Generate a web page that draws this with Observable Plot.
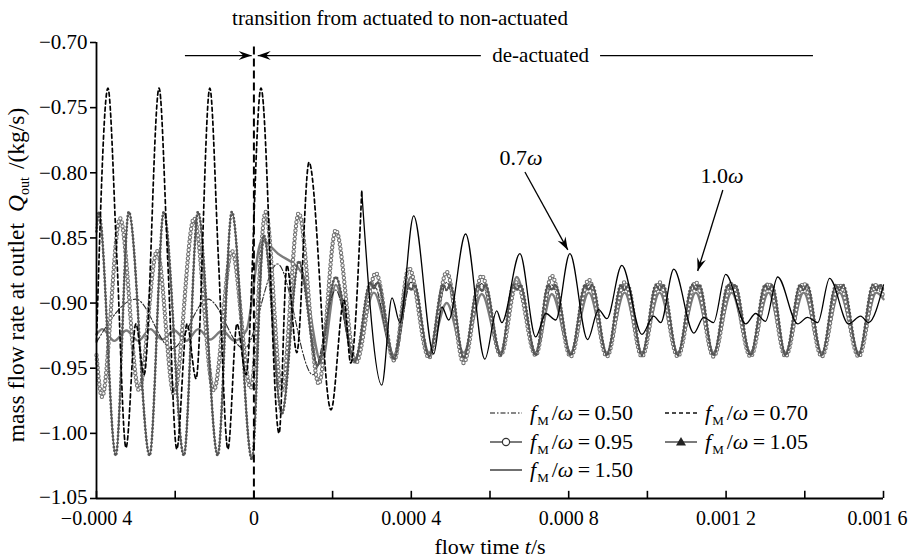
<!DOCTYPE html>
<html><head><meta charset="utf-8">
<script src="https://cdn.jsdelivr.net/npm/d3@7"></script>
<script src="https://cdn.jsdelivr.net/npm/@observablehq/plot@0.6"></script>
<style>
body{margin:0;background:#fff}
svg{font-family:"Liberation Serif","Times New Roman",serif}
</style>
</head><body><div id="chart"></div>
<script>
// ---- data: [time in microseconds, mass flow rate kg/s] ----
const s050 = [[-400,-0.93],[-300,-0.897],[-208,-0.935],[-117,-0.897],[-25,-0.935],[60,-0.870],[150,-0.955],[208,-0.890],[256,-0.945],[305,-0.886],[356,-0.945],[399,-0.884],[445,-0.941],[490,-0.884],[533,-0.941],[579,-0.885],[627,-0.940],[668,-0.885],[716,-0.940],[757,-0.886],[805,-0.940],[851,-0.886],[897,-0.940],[942,-0.886],[986,-0.940],[1031,-0.886],[1077,-0.940],[1123,-0.886],[1168,-0.940],[1214,-0.886],[1262,-0.940],[1308,-0.886],[1351,-0.940],[1397,-0.886],[1443,-0.940],[1488,-0.886],[1537,-0.940],[1582,-0.886],[1600,-0.893]];

const s070 = [[-400,-0.93],[-371,-0.735],[-348,-0.867],[-325,-1.011],[-300,-0.916],[-279,-0.955],
[-241,-0.735],[-219,-0.867],[-196,-1.012],[-170,-0.916],[-147,-0.958],
[-112,-0.735],[-90,-0.867],[-66,-1.012],[-43,-0.916],[-20,-0.955],
[18,-0.735],[64,-1.0],[84,-0.871],[109,-0.938],
[140,-0.792],[196,-0.982],[229,-0.898],[246,-0.946],
[274,-0.814],[325,-0.963],[351,-0.896],[371,-0.915],
[406,-0.833],[457,-0.939],[478,-0.903],[495,-0.913],
[538,-0.847],[587,-0.943],[617,-0.906],[630,-0.915],
[676,-0.862],[716,-0.926],[742,-0.908],[767,-0.913],
[803,-0.862],[848,-0.928],[876,-0.905],[897,-0.912],
[935,-0.871],[986,-0.924],[1016,-0.910],[1034,-0.915],
[1067,-0.874],[1118,-0.923],[1143,-0.911],[1168,-0.915],
[1199,-0.878],[1250,-0.916],[1275,-0.908],[1300,-0.914],
[1331,-0.880],[1382,-0.916],[1407,-0.911],[1433,-0.915],
[1463,-0.881],[1511,-0.916],[1542,-0.910],[1562,-0.915],[1600,-0.886]];

const s095 = [[-400,-0.94],[-386,-0.972],[-340,-0.835],[-292,-0.967],[-246,-0.860],[-203,-0.970],[-152,-0.835],[-102,-0.967],[-56,-0.860],[-8,-0.965],
[30,-0.830],[71,-0.967],[114,-0.831],[165,-0.962],[208,-0.844],[259,-0.946],[310,-0.877],[356,-0.944],[394,-0.873],[445,-0.942],
[490,-0.876],[533,-0.946],[579,-0.879],[627,-0.940],[668,-0.884],[716,-0.940],[757,-0.879],[805,-0.941],[851,-0.882],[897,-0.941],
[942,-0.884],[986,-0.941],[1031,-0.884],[1077,-0.941],[1123,-0.884],[1168,-0.941],[1214,-0.885],[1262,-0.941],[1308,-0.885],[1351,-0.941],
[1397,-0.885],[1443,-0.941],[1488,-0.886],[1537,-0.941],[1582,-0.886],[1600,-0.895]];

const s105 = [[-400,-0.845],[-394,-0.830],[-351,-1.017],[-318,-0.830],[-265,-1.017],[-229,-0.830],[-178,-1.017],[-142,-0.830],[-92,-1.017],[-56,-0.830],
[-5,-1.020],[25,-0.848],[71,-0.985],[114,-0.868],[162,-0.948],[208,-0.880],[256,-0.945],
[296,-0.884],[305,-0.889],[314,-0.884],[356,-0.943],
[390,-0.886],[399,-0.890],[408,-0.886],[445,-0.941],
[481,-0.886],[490,-0.890],[499,-0.886],[533,-0.942],
[570,-0.886],[579,-0.891],[588,-0.886],[627,-0.940],
[659,-0.886],[668,-0.890],[677,-0.886],[716,-0.940],
[748,-0.886],[757,-0.890],[766,-0.886],[805,-0.940],
[842,-0.886],[851,-0.890],[860,-0.886],[897,-0.940],
[933,-0.886],[942,-0.890],[951,-0.886],[986,-0.940],
[1022,-0.886],[1031,-0.890],[1040,-0.886],[1077,-0.940],
[1114,-0.886],[1123,-0.890],[1132,-0.886],[1168,-0.940],
[1205,-0.886],[1214,-0.890],[1223,-0.886],[1262,-0.940],
[1299,-0.886],[1308,-0.890],[1317,-0.886],[1351,-0.940],
[1388,-0.886],[1397,-0.890],[1406,-0.886],[1443,-0.940],
[1479,-0.886],[1488,-0.890],[1497,-0.886],[1537,-0.940],
[1573,-0.886],[1582,-0.890],[1591,-0.886],[1600,-0.890]];

const s150 = [[-400,-0.924],[-385,-0.920],[-355,-0.929],[-324,-0.921],[-294,-0.929],[-263,-0.920],[-233,-0.928],[-202,-0.921],[-172,-0.929],[-141,-0.920],[-111,-0.928],[-80,-0.921],[-50,-0.929],[-19,-0.921],
[20,-0.852],[61,-0.862],[122,-0.877],[172,-0.946],[208,-0.886],[256,-0.943],[305,-0.892],[356,-0.940],[399,-0.880],[445,-0.938],
[490,-0.900],[533,-0.938],[579,-0.893],[627,-0.938],[668,-0.880],[716,-0.938],[757,-0.893],[805,-0.938],[851,-0.892],[897,-0.938],
[942,-0.892],[986,-0.938],[1031,-0.892],[1077,-0.938],[1123,-0.892],[1168,-0.938],[1214,-0.892],[1262,-0.938],[1308,-0.892],[1351,-0.938],
[1397,-0.892],[1443,-0.938],[1488,-0.892],[1537,-0.938],[1582,-0.892],[1600,-0.897]];

const xTickValues = [-4,-2,0,2,4,6,8,10,12,14,16];      // ×1e-4 s
const yTickValues = [-105,-100,-95,-90,-85,-80,-75,-70]; // ×1e-2 kg/s
const legendLabels = ["0.50","0.70","0.95","1.05","1.50"];

// ---- build tables ----
const rows = s => s.map(([t,q]) => ({t: t*1e-6, q}));
const d050 = rows(s050), d070 = rows(s070), d095 = rows(s095), d105 = rows(s105), d150 = rows(s150);
const d070dash = d070.filter(d => d.t <= 274e-6);
const d070solid = d070.filter(d => d.t >= 274e-6);
const xTicks = xTickValues.map(v => v*1e-4);
const yTicks = yTickValues.map(v => v/100);

const fmtX = d => {
  const k = Math.round(d*1e4);
  if (k % 4 !== 0) return "";
  if (k === 0) return "0";
  const s = Math.abs(d).toFixed(4);
  return (d < 0 ? "\u2212" : "") + s.slice(0,5) + "\u2005" + s.slice(5);
};
const fmtY = d => (d < 0 ? "\u2212" : "") + Math.abs(d).toFixed(2);

const FONT = '"Liberation Serif","Times New Roman",serif';
const C = "monotone-x";

const chart = Plot.plot({
  width: 909, height: 559,
  marginLeft: 96, marginRight: 26, marginTop: 42, marginBottom: 61,
  style: {fontFamily: FONT, fontSize: "20px", background: "#fff", color: "#000", overflow: "visible"},
  x: {domain: [-0.0004, 0.0016]},
  y: {domain: [-1.05, -0.70]},
  marks: [
    Plot.axisY({ticks: yTicks, tickFormat: fmtY, tickSize: 6, tickPadding: 3, label: null, fontSize: 21, strokeWidth: 1.6}),
    Plot.axisX({ticks: xTicks, tickFormat: fmtX, tickSize: 0, tickPadding: 12, label: null, fontSize: 20}),
    Plot.ruleX(xTicks, {y1: -1.05, y2: -1.0445, stroke: "#000", strokeWidth: 1.6}),
    // series
    Plot.line(d150, {x: "t", y: "q", curve: C, stroke: "#7c7c7c", strokeWidth: 2.4}),
    Plot.line(d050, {x: "t", y: "q", curve: C, stroke: "#2a2a2a", strokeWidth: 1.1, strokeDasharray: "6,2,1.5,2"}),
    Plot.line(d095, {x: "t", y: "q", curve: C, stroke: "#808080", strokeWidth: 1.2}),
    Plot.line(d095, {x: "t", y: "q", curve: C, stroke: "#727272", strokeWidth: 4.4, strokeDasharray: "0,4.2", strokeLinecap: "round"}),
    Plot.line(d095, {x: "t", y: "q", curve: C, stroke: "#fff", strokeWidth: 2.3, strokeDasharray: "0,4.2", strokeLinecap: "round"}),
    Plot.line(d105, {x: "t", y: "q", curve: C, stroke: "#5a5a5a", strokeWidth: 1.4}),
    Plot.line(d105, {x: "t", y: "q", curve: C, stroke: "#555", strokeWidth: 2.8, strokeDasharray: "0,3.6", strokeLinecap: "round"}),
    Plot.line(d070dash, {x: "t", y: "q", curve: C, stroke: "#000", strokeWidth: 1.7, strokeDasharray: "4,3"}),
    Plot.line(d070solid, {x: "t", y: "q", curve: C, stroke: "#000", strokeWidth: 1.3}),
    // transition marker
    Plot.ruleX([0], {y1: -0.7035, y2: -1.05, stroke: "#000", strokeWidth: 2, strokeDasharray: "8,4"}),
    // axis lines
    Plot.ruleX([-0.0004], {stroke: "#000", strokeWidth: 1.8}),
    Plot.ruleY([-1.05], {stroke: "#000", strokeWidth: 1.8})
  ]
});
document.getElementById("chart").appendChild(chart);

// nudge end labels so they stay clear of neighbours / edges
d3.select(chart).selectAll("g[aria-label='x-axis tick label'] text").each(function() {
  if (this.textContent.startsWith("0.001\u20056")) d3.select(this).attr("dx", -6);
});
d3.select(chart).selectAll("g[aria-label='y-axis tick label'] text").each(function() {
  if (this.textContent === "\u22121.05") d3.select(this).attr("dy", "-0.08em");
});

// ---- annotations ----
const sx = chart.scale("x"), sy = chart.scale("y");
const X = v => sx.apply(v), Y = v => sy.apply(v);
const svg = d3.select(chart);
const g = svg.append("g").attr("font-family", FONT).attr("fill", "#000").attr("text-anchor", "start");

function head(x1, y1, x2, y2, len = 13, hw = 4.5) {
  const a = Math.atan2(y2 - y1, x2 - x1), c = Math.cos(a), s = Math.sin(a);
  const pts = [
    [x2, y2],
    [x2 - len*c + hw*s, y2 - len*s - hw*c],
    [x2 - 0.65*len*c, y2 - 0.65*len*s],
    [x2 - len*c - hw*s, y2 - len*s + hw*c]
  ];
  g.append("polygon").attr("points", pts.map(p => p.join(",")).join(" ")).attr("fill", "#000");
}
function arrow(t1, q1, t2, q2, withHead = true, w = 1.3) {
  const x1 = X(t1), y1 = Y(q1), x2 = X(t2), y2 = Y(q2);
  g.append("line").attr("x1", x1).attr("y1", y1).attr("x2", x2).attr("y2", y2)
    .attr("stroke", "#000").attr("stroke-width", w);
  if (withHead) head(x1, y1, x2, y2);
}
const qa = -0.7104;
arrow(-0.000174, qa, -0.0000045, qa);
arrow(0.000578, qa, 0.000011, qa);
arrow(0.000881, qa, 0.001422, qa, false);
g.append("text").attr("x", X(0.000730)).attr("y", Y(qa)).attr("dy", "0.33em")
  .attr("text-anchor", "middle").attr("font-size", 21).text("de-actuated");

arrow(0.000690, -0.7998, 0.000799, -0.8596);
arrow(0.001193, -0.8136, 0.001129, -0.8758);
function omegaLabel(t, q, num) {
  const tx = g.append("text").attr("x", X(t)).attr("y", Y(q)).attr("dy", "0.33em")
    .attr("text-anchor", "middle").attr("font-size", 22);
  tx.append("tspan").text(num);
  tx.append("tspan").attr("font-style", "italic").text("\u03c9");
}
omegaLabel(0.000680, -0.789, "0.7");
omegaLabel(0.001191, -0.8028, "1.0");

// title
g.append("text").attr("x", 400).attr("y", 25).attr("text-anchor", "middle").attr("font-size", 21)
  .text("transition from actuated to non-actuated");

// x label
const xl = g.append("text").attr("x", 490).attr("y", 554).attr("text-anchor", "middle").attr("font-size", 22);
xl.append("tspan").text("flow time ");
xl.append("tspan").attr("font-style", "italic").text("t");
xl.append("tspan").text("/s");

// y label
const yl = g.append("text").attr("transform", "translate(24,275) rotate(-90)").attr("text-anchor", "middle").attr("font-size", 23.5);
yl.append("tspan").text("mass flow rate at outlet");
yl.append("tspan").attr("dx", 11).attr("font-style", "italic").text("Q");
yl.append("tspan").attr("font-size", 14).attr("dy", 5).text("out");
yl.append("tspan").attr("dy", -5).attr("dx", 8).text("/(kg/s)");

// legend
const leg = g.append("g").attr("text-anchor", "start");
const legendItems = [
  {label: legendLabels[0], x: 490, y: 413, dash: "5,2,1.5,2", color: "#111", w: 1.1},
  {label: legendLabels[1], x: 665, y: 413, dash: "4,3", color: "#111", w: 1.3},
  {label: legendLabels[2], x: 490, y: 442, dash: null, color: "#333", w: 1.3, mark: "circle"},
  {label: legendLabels[3], x: 665, y: 442, dash: null, color: "#333", w: 1.3, mark: "tri"},
  {label: legendLabels[4], x: 490, y: 470, dash: null, color: "#333", w: 1.4}
];
for (const it of legendItems) {
  const ln = leg.append("line").attr("x1", it.x).attr("x2", it.x + 32).attr("y1", it.y).attr("y2", it.y)
    .attr("stroke", it.color).attr("stroke-width", it.w);
  if (it.dash) ln.attr("stroke-dasharray", it.dash);
  const cx = it.x + 16;
  if (it.mark === "circle") leg.append("circle").attr("cx", cx).attr("cy", it.y).attr("r", 3.6)
    .attr("fill", "#fff").attr("stroke", "#333").attr("stroke-width", 1.2);
  if (it.mark === "tri") leg.append("polygon")
    .attr("points", `${cx},${it.y-5} ${cx-5},${it.y+3.5} ${cx+5},${it.y+3.5}`).attr("fill", "#222");
  const tx = leg.append("text").attr("x", it.x + 40).attr("y", it.y + 7).attr("font-size", 22).attr("text-anchor", "start");
  tx.append("tspan").attr("font-style", "italic").text("f");
  tx.append("tspan").attr("font-size", 13).attr("dy", 5).attr("dx", 1).text("M");
  tx.append("tspan").attr("dy", -5).attr("dx", 3).text("/");
  tx.append("tspan").attr("font-style", "italic").text("\u03c9");
  tx.append("tspan").text("\u2009=\u2009" + it.label);
}
</script>
</body></html>
